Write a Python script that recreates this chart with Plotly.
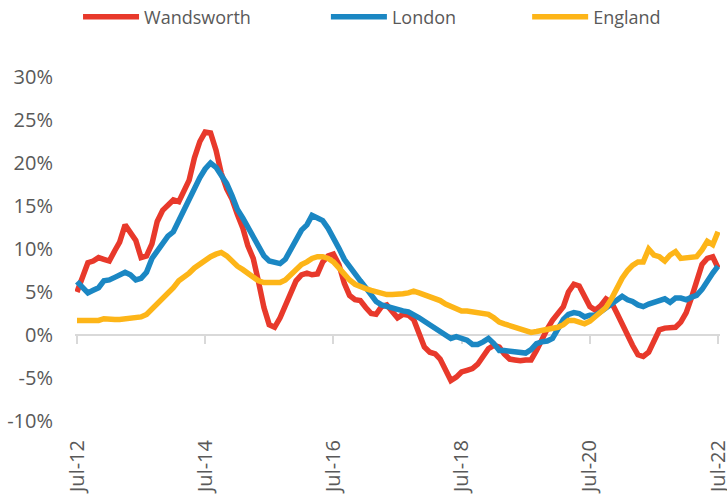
import pandas as pd
import plotly.graph_objects as go

dates = pd.date_range("2012-07-01", periods=121, freq="MS")

wandsworth = [5.0, 6.5, 8.4, 8.6, 9.0, 8.8, 8.6, 9.8, 10.8, 12.8,
              11.8, 11.0, 9.0, 9.2, 10.6, 13.2, 14.5, 15.2, 15.7, 15.5,
              16.6, 18.0, 20.6, 22.5, 23.6, 23.5, 21.5, 18.8, 17.0, 15.8,
              14.0, 12.4, 10.4, 8.9, 6.2, 3.2, 1.2, 0.9, 2.0, 3.5,
              4.9, 6.3, 7.0, 7.2, 7.0, 7.1, 8.5, 9.2, 9.4, 8.2,
              6.0, 4.6, 4.1, 4.0, 3.2, 2.5, 2.4, 3.3, 3.5, 2.8,
              2.0, 2.4, 2.3, 1.8, 0.2, -1.4, -2.0, -2.2, -2.8, -4.0,
              -5.3, -4.9, -4.3, -4.1, -3.9, -3.4, -2.4, -1.6, -1.2, -1.4,
              -2.2, -2.8, -2.9, -3.0, -2.9, -2.9, -1.8, -0.5, 0.7, 1.7,
              2.5, 3.3, 5.0, 5.9, 5.7, 4.5, 3.3, 2.9, 3.4, 4.2,
              3.8, 2.6, 1.2, -0.3, -1.2, -2.3, -2.5, -2.0, -0.8, 0.6,
              0.8, 0.8, 0.9, 1.5, 2.6, 4.4, 6.2, 8.2, 8.9, 9.1,
              7.8]

london = [6.2, 5.6, 4.9, 5.2, 5.5, 6.3, 6.4, 6.7, 7.0, 7.3,
          7.0, 6.4, 6.6, 7.3, 8.9, 9.7, 10.6, 11.5, 12.0, 13.3,
          14.5, 15.8, 17.2, 18.3, 19.3, 20.0, 19.5, 18.6, 17.6, 16.2,
          14.6, 13.6, 12.6, 11.6, 10.3, 9.2, 8.6, 8.4, 8.3, 8.8,
          9.9, 11.2, 12.2, 12.8, 13.9, 13.6, 13.3, 12.4, 11.4, 10.1,
          8.8, 7.9, 7.1, 6.3, 5.5, 4.6, 3.9, 3.5, 3.3, 3.2,
          3.0, 2.8, 2.7, 2.4, 2.0, 1.6, 1.2, 0.9, 0.5, 0.0,
          -0.4, -0.2, -0.4, -0.6, -1.1, -1.1, -0.8, -0.4, -1.0, -1.8,
          -1.8, -1.9, -2.0, -2.1, -2.1, -1.7, -1.0, -0.8, -0.7, -0.4,
          0.6, 1.8, 2.4, 2.6, 2.5, 2.1, 2.3, 2.3, 2.7, 3.1,
          3.7, 4.1, 4.5, 4.1, 3.9, 3.5, 3.3, 3.6, 3.8, 4.0,
          4.2, 3.8, 4.3, 4.3, 4.1, 4.4, 4.6, 5.3, 6.3, 7.2,
          8.0]

england = [1.7, 1.7, 1.6, 1.6, 1.7, 1.9, 1.8, 1.8, 1.8, 1.9,
           2.0, 2.1, 2.1, 2.4, 3.0, 3.6, 4.1, 4.7, 5.5, 6.3,
           6.7, 7.2, 7.8, 8.3, 8.8, 9.1, 9.4, 9.6, 9.2, 8.5,
           8.0, 7.6, 7.2, 6.7, 6.3, 6.1, 6.1, 6.1, 6.1, 6.4,
           7.0, 7.7, 8.2, 8.5, 8.9, 9.1, 9.1, 8.9, 8.5, 7.8,
           7.0, 6.4, 5.9, 5.6, 5.4, 5.2, 5.0, 4.8, 4.7, 4.7,
           4.7, 4.8, 4.9, 5.1, 4.9, 4.7, 4.5, 4.3, 4.0, 3.6,
           3.3, 3.0, 2.8, 2.8, 2.7, 2.7, 2.6, 2.4, 2.0, 1.5,
           1.3, 1.1, 1.0, 0.8, 0.5, 0.3, 0.4, 0.5, 0.6, 0.8,
           0.9, 1.2, 1.7, 1.7, 1.5, 1.3, 1.6, 2.2, 2.7, 3.2,
           4.2, 5.4, 6.6, 7.5, 8.1, 8.5, 8.5, 10.0, 9.3, 9.1,
           8.6, 9.3, 9.7, 8.9, 9.0, 9.0, 9.1, 9.9, 10.9, 10.5,
           12.0]

series_names = ["Wandsworth", "London", "England"]
series_colors = ["#E8392B", "#1B87C3", "#FDB518"]

x_tick_dates = ["2012-07-01", "2014-07-01", "2016-07-01",
                "2018-07-01", "2020-07-01", "2022-07-01"]
x_tick_labels = ["Jul-12", "Jul-14", "Jul-16", "Jul-18", "Jul-20", "Jul-22"]
y_tick_values = [-10, -5, 0, 5, 10, 15, 20, 25, 30]
y_tick_labels = ["-10%", "-5%", "0%", "5%", "10%", "15%", "20%", "25%", "30%"]

FONT = "Open Sans"
GREY = "#595959"
AXIS = "#D9D9D9"

fig = go.Figure()
legend_ids = ["legend", "legend2", "legend3"]
for name, vals, col, lg in zip(series_names, [wandsworth, london, england],
                               series_colors, legend_ids):
    fig.add_trace(go.Scatter(x=dates, y=vals, name=name, mode="lines",
                             line=dict(color=col, width=5.5), legend=lg,
                             hoverinfo="skip"))

# invisible carrier for the label axis
fig.add_trace(go.Scatter(x=[dates[0]], y=[0], xaxis="x2", mode="markers",
                         marker=dict(opacity=0), showlegend=False,
                         hoverinfo="skip"))

# small padding so the end ticks are not clipped away
pad = pd.Timedelta(hours=274)
xr = [dates[0] - pad, dates[-1] + pad]
legend_common = dict(orientation="h", yanchor="middle", y=1.174,
                     xanchor="left", itemwidth=56, bgcolor="rgba(0,0,0,0)",
                     font=dict(family=FONT, size=18, color=GREY))

fig.update_layout(
    width=727, height=497,
    margin=dict(l=75, r=7, t=77, b=76, autoexpand=False),
    paper_bgcolor="white", plot_bgcolor="white",
    font=dict(family=FONT, size=20, color=GREY),
    xaxis=dict(type="date", range=xr, anchor="free", position=0.25,
               showline=True, linecolor=AXIS, linewidth=2,
               ticks="outside", ticklen=8, tickwidth=1.5, tickcolor=AXIS,
               tickvals=x_tick_dates, showticklabels=False,
               showgrid=False, zeroline=False, layer="below traces"),
    xaxis2=dict(type="date", range=xr, overlaying="x", anchor="y",
                side="bottom", tickvals=x_tick_dates, ticktext=x_tick_labels,
                tickangle=-90, ticks="", showline=False, showgrid=False,
                zeroline=False, ticklabelstandoff=14,
                ticklabeloverflow="allow",
                tickfont=dict(family=FONT, size=20, color=GREY)),
    yaxis=dict(range=[-10, 30], tickvals=y_tick_values, ticktext=y_tick_labels,
               showgrid=False, zeroline=False, showline=False, ticks="",
               ticklabelstandoff=21,
               tickfont=dict(family=FONT, size=20, color=GREY)),
    legend=dict(x=0.0047, **legend_common),
    legend2=dict(x=0.389, **legend_common),
    legend3=dict(x=0.701, **legend_common),
)

fig.write_html("out.html", config={"displayModeBar": False},
               post_script="document.body.style.margin='0px';")
